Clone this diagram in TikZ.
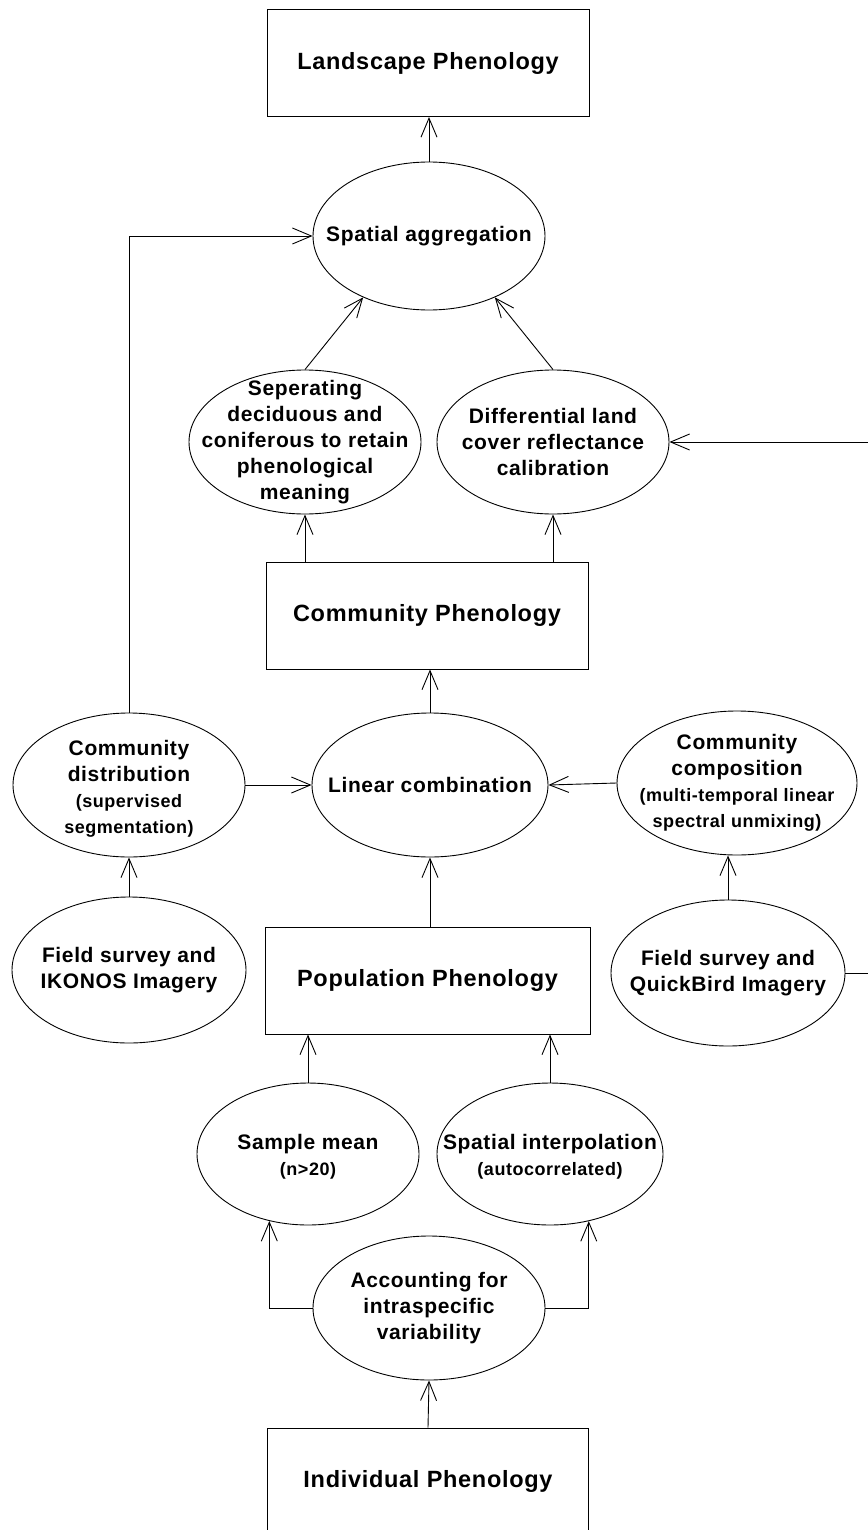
\documentclass[tikz,border=0pt]{standalone}
\usepackage{fontspec}
\newfontfamily\lsans[LetterSpace=3]{Liberation Sans}
\usetikzlibrary{shapes.geometric,arrows.meta}
\tikzset{
  boxnode/.style={draw=black, line width=1pt, rectangle, minimum width=322pt, minimum height=107pt, inner sep=0pt,
    font=\lsans\bfseries\fontsize{23.5}{28}\selectfont},
  ell/.style={draw=black, line width=0.9pt, ellipse, inner sep=0pt},
  etext/.style={align=center, font=\lsans\bfseries\fontsize{21}{26}\selectfont, inner sep=0pt},
  arr/.style={line width=0.9pt, -{Straight Barb[length=19pt,width=16pt,line width=0.9pt]}},
  conn/.style={line width=0.9pt}
}
\newcommand{\smalltxt}{\fontsize{18}{26}\selectfont}
\begin{document}
\begin{tikzpicture}[x=1pt,y=-1pt]
\useasboundingbox (0,0) rectangle (867,1530);
% boxes
\node[boxnode] (land) at (428,63) {Landscape Phenology};
\node[boxnode] (comm) at (427,615.5) {Community Phenology};
\node[boxnode, minimum width=325pt] (pop) at (427.5,980.5) {Population Phenology};
\node[boxnode, minimum width=321pt] (ind) at (428,1481.5) {Individual Phenology};
% ellipses
\node[ell, minimum width=232pt, minimum height=148pt,
  label={[etext]center:Spatial aggregation}] (agg) at (429,236) {};
\node[ell, minimum width=232pt, minimum height=144pt,
  label={[etext]center:Seperating\\deciduous and\\coniferous to retain\\phenological\\meaning}] (sep) at (305,442) {};
\node[ell, minimum width=232pt, minimum height=144pt,
  label={[etext]center:Differential land\\cover reflectance\\calibration}] (diff) at (553,442) {};
\node[ell, minimum width=236pt, minimum height=144pt,
  label={[etext]center:Linear combination}] (lin) at (430,785) {};
\node[ell, minimum width=232pt, minimum height=144pt,
  label={[etext, yshift=-4pt]center:Community\\distribution\\{\smalltxt(supervised}\\{\smalltxt segmentation)}}] (dist) at (129,785) {};
\node[ell, minimum width=240pt, minimum height=144pt,
  label={[etext]center:Community\\composition\\{\smalltxt(multi-temporal linear}\\{\smalltxt spectral unmixing)}}] (comp) at (737,783) {};
\node[ell, minimum width=234pt, minimum height=146pt,
  label={[etext]center:Field survey and\\IKONOS Imagery}] (iko) at (129,970) {};
\node[ell, minimum width=234pt, minimum height=146pt,
  label={[etext]center:Field survey and\\QuickBird Imagery}] (qb) at (728,973) {};
\node[ell, minimum width=222pt, minimum height=142pt,
  label={[etext, yshift=-3pt]center:Sample mean\\{\smalltxt(n>20)}}] (mean) at (308,1154) {};
\node[ell, minimum width=226pt, minimum height=142pt,
  label={[etext, yshift=-3pt]center:Spatial interpolation\\{\smalltxt(autocorrelated)}}] (interp) at (550,1154) {};
\node[ell, minimum width=232pt, minimum height=144pt,
  label={[etext]center:Accounting for\\intraspecific\\variability}] (acc) at (429,1308) {};
% free ends on the right (outside the page)
\coordinate (rq) at (876,973);
\coordinate (rd) at (876,442);
% connectors
\draw[arr] (agg.north) -- (agg.north |- land.south);
\draw[arr] (sep.north) -- (agg.223);
\draw[arr] (diff.north) -- (agg.317);
\draw[arr] (sep.south |- comm.north) -- (sep.south);
\draw[arr] (diff.south |- comm.north) -- (diff.south);
\draw[arr] (lin.north) -- (lin.north |- comm.south);
\draw[arr] (dist.north) |- (agg.west);
\draw[arr] (dist.east) -- (lin.west);
\draw[arr] (comp.west) -- (lin.east);
\draw[arr] (iko.north) -- (dist.south);
\draw[arr] (qb.north) -- (qb.north |- comp.south);
\draw[arr] (qb.east) -- (rq) -- (rd) -- (diff.east);
\draw[arr] (pop.north -| lin.south) -- (lin.south);
\draw[arr] (mean.north) -- (mean.north |- pop.south);
\draw[arr] (interp.north) -- (interp.north |- pop.south);
\draw[arr] (acc.west) -| (mean.240);
\draw[arr] (acc.east) -| (interp.300);
\draw[arr] (ind.north) -- (acc.south);
\end{tikzpicture}
\end{document}
